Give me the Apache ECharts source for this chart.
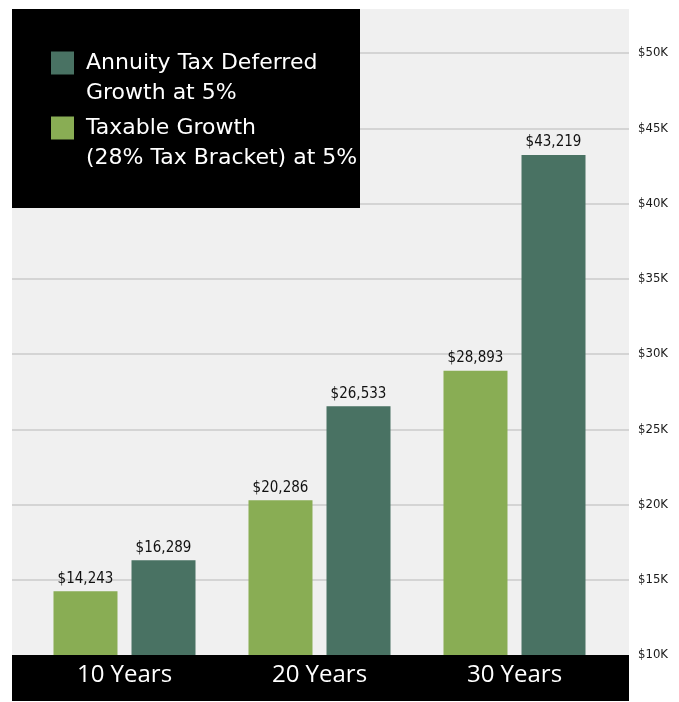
<!DOCTYPE html>
<html>
<head>
<meta charset="utf-8">
<script src="https://cdn.jsdelivr.net/npm/echarts@6/dist/echarts.min.js"></script>
<style>
html,body{margin:0;padding:0;background:#fff;}
#chart{width:679px;height:702px;}
</style>
</head>
<body>
<div id="chart"></div>
<script>
const categories = ['10 Years', '20 Years', '30 Years'];
const taxableName = 'Taxable Growth\n(28% Tax Bracket) at 5%';
const annuityName = 'Annuity Tax Deferred\nGrowth at 5%';
const taxableValues = [14243, 20286, 28893];
const annuityValues = [16289, 26533, 43219];
const yTicks = [10000, 15000, 20000, 25000, 30000, 35000, 40000, 45000, 50000];

const GREEN = '#89ad54';
const DARK = '#497263';
const narrow = '"Liberation Sans Narrow", "DejaVu Sans Condensed", "Roboto", sans-serif';
const sans = '"Open Sans", "Lato", sans-serif';
const wide = '"DejaVu Sans", "Open Sans", sans-serif';

function money(v){ return '$' + String(v).replace(/\B(?=(\d{3})+(?!\d))/g, ','); }

const chart = echarts.init(document.getElementById('chart'), null, {renderer: 'canvas'});
const yMin = yTicks[0], yMax = yTicks[yTicks.length - 1], yStep = yTicks[1] - yTicks[0];

const barLabel = {
  show: true, position: 'top', distance: 5,
  color: '#111', fontSize: 15, fontFamily: narrow,
  formatter: p => money(p.value)
};

chart.setOption({
  backgroundColor: '#ffffff',
  animation: false,
  graphic: [
    {type: 'rect', z: -10, shape: {x: 12, y: 9, width: 617, height: 646}, style: {fill: '#f0f0f0'}, silent: true},
    {type: 'rect', z: -5, shape: {x: 12, y: 655, width: 617, height: 46}, style: {fill: '#000000'}, silent: true},
    {type: 'rect', z: 3, shape: {x: 12, y: 9, width: 348, height: 199}, style: {fill: '#000000'}, silent: true}
  ],
  legend: {
    orient: 'vertical', left: 51, top: 18, padding: 0,
    itemWidth: 23, itemHeight: 23, itemGap: -25,
    icon: 'rect', selectedMode: false,
    data: [annuityName, taxableName],
    formatter: name => '\n' + name,
    textStyle: {color: '#ffffff', fontSize: 22, lineHeight: 30, fontFamily: wide, padding: [0, 0, 0, 7]}
  },
  grid: [
    {left: 27, right: 67, top: 53, bottom: 47},
    {left: 12, right: 50, top: 53, bottom: 47}
  ],
  xAxis: [
    {
      type: 'category', gridIndex: 0, data: categories,
      axisLine: {show: false}, axisTick: {show: false},
      axisLabel: {color: '#ffffff', fontSize: 24, fontFamily: sans, margin: 8}
    },
    {type: 'value', gridIndex: 1, show: false, min: 0, max: 1}
  ],
  yAxis: [
    {type: 'value', gridIndex: 0, min: yMin, max: yMax, interval: yStep, show: false, splitLine: {show: false}},
    {
      type: 'value', gridIndex: 1, position: 'right', min: yMin, max: yMax, interval: yStep,
      axisLine: {show: false}, axisTick: {show: false},
      axisLabel: {color: '#1a1a1a', fontSize: 13, fontFamily: narrow, margin: 9, align: 'left',
        formatter: v => '$' + (v / 1000) + 'K'},
      splitLine: {show: true, showMinLine: false, lineStyle: {color: '#d4d4d4', width: 2}}
    }
  ],
  series: [
    {
      name: taxableName, type: 'bar', xAxisIndex: 0, yAxisIndex: 0,
      data: taxableValues, barWidth: 64, barGap: '21.9%',
      itemStyle: {color: GREEN}, label: barLabel
    },
    {
      name: annuityName, type: 'bar', xAxisIndex: 0, yAxisIndex: 0,
      data: annuityValues, barWidth: 64, barGap: '21.9%',
      itemStyle: {color: DARK}, label: barLabel
    }
  ]
});
</script>
</body>
</html>
